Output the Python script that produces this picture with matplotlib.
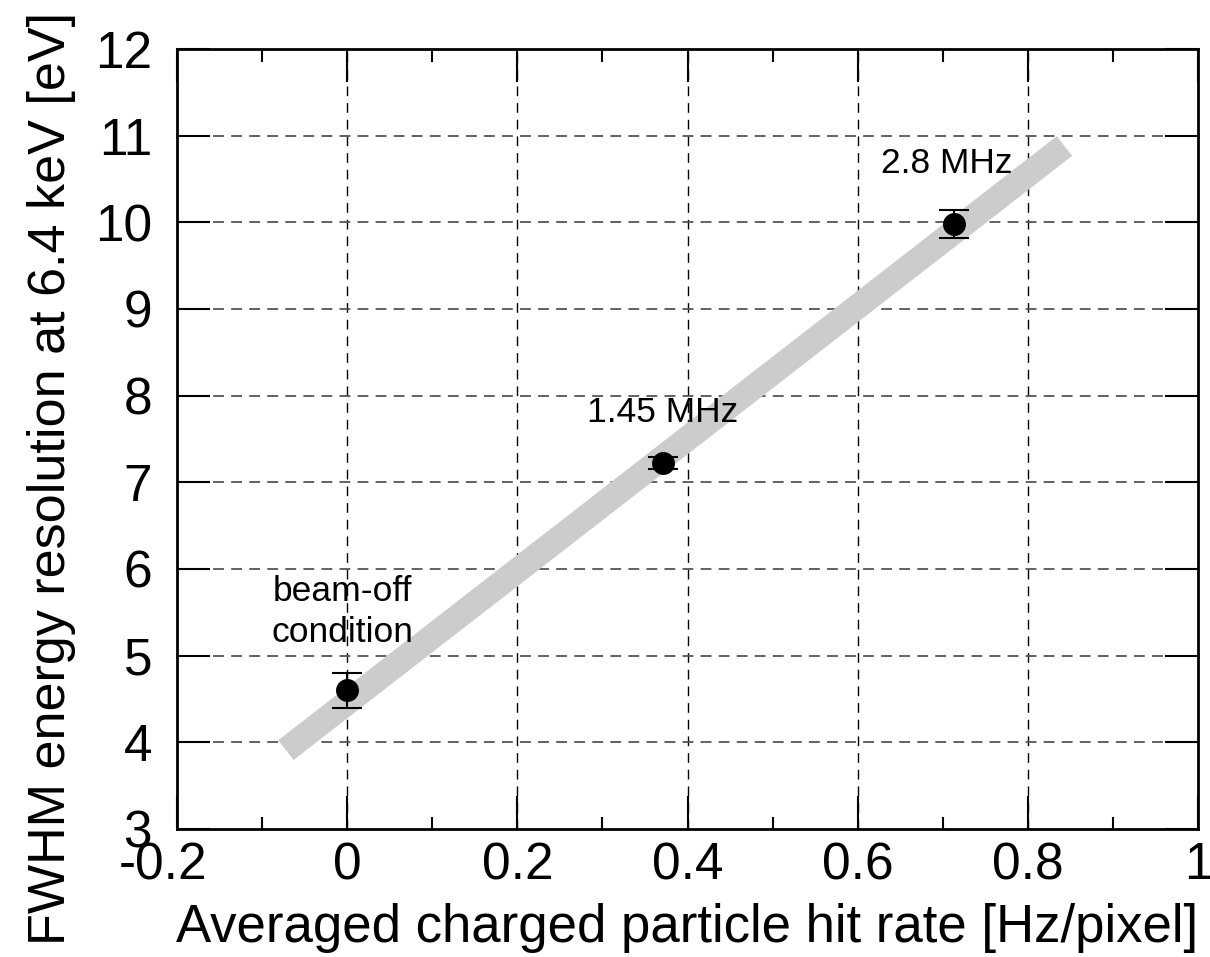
import matplotlib
matplotlib.use("Agg")
import matplotlib.pyplot as plt
from matplotlib.ticker import MultipleLocator
from matplotlib.transforms import ScaledTranslation

plt.rcParams['font.family'] = ['Liberation Sans', 'DejaVu Sans']
plt.rcParams['axes.unicode_minus'] = False

# Data
hit_rate = [0.0, 0.371, 0.713]
fwhm = [4.60, 7.22, 9.98]
fwhm_err = [0.20, 0.07, 0.165]
fit_x = [-0.072, 0.843]
fit_y = [3.91, 10.88]
labels = ["beam-off\ncondition", "1.45 MHz", "2.8 MHz"]
label_x = [-0.006, 0.371, 0.705]
label_y = [5.50, 7.81, 10.68]
x_ticks = [-0.2, 0.0, 0.2, 0.4, 0.6, 0.8, 1.0]
x_ticklabels = ["-0.2", "0", "0.2", "0.4", "0.6", "0.8", "1"]
y_ticks = [3, 4, 5, 6, 7, 8, 9, 10, 11, 12]
y_ticklabels = ["3", "4", "5", "6", "7", "8", "9", "10", "11", "12"]

fig = plt.figure(figsize=(12.1, 9.57), dpi=100)
ax = fig.add_axes([0.1463, 0.1338, 0.8438, 0.815])

ax.set_xlim(-0.2, 1.0)
ax.set_ylim(3, 12)
ax.set_xticks(x_ticks)
ax.set_xticklabels(x_ticklabels)
ax.set_yticks(y_ticks)
ax.set_yticklabels(y_ticklabels)
ax.xaxis.set_minor_locator(MultipleLocator(0.1))

# Grid
for xv in x_ticks[1:-1]:
    ax.axvline(xv, color='black', lw=1.0, ls=(0, (7, 5)), zorder=1)
for yv in y_ticks[1:-1]:
    ax.axhline(yv, color='#555555', lw=1.3, ls=(0, (6, 4)), zorder=1)

# Fit band
ax.plot(fit_x, fit_y, color='#cccccc', lw=18, solid_capstyle='butt', zorder=2)

# Data points
ax.errorbar(hit_rate, fwhm, yerr=fwhm_err, fmt='o', color='black',
            markersize=15.5, capsize=10.5, elinewidth=1.5, capthick=1.5, zorder=3)

for t, lx, ly in zip(labels, label_x, label_y):
    ax.text(lx, ly, t, ha='center', va='center', fontsize=25.5, linespacing=1.3, zorder=4)

ax.tick_params(which='both', direction='in', top=True, right=True, width=1.5,
               labelsize=37)
ax.tick_params(which='major', length=24)
ax.tick_params(which='minor', length=9)
ax.tick_params(axis='x', pad=9)
ax.tick_params(axis='y', pad=18)

for sp in ax.spines.values():
    sp.set_linewidth(2)

ax.set_xlabel("Averaged charged particle hit rate [Hz/pixel]", fontsize=38)
ax.xaxis.label.set_va('baseline')
ax.xaxis.set_label_coords(0.5, -0.1449)
ax.set_ylabel("FWHM energy resolution at 6.4 keV [eV]", fontsize=37.5)
ax.yaxis.label.set_va('center')
ax.yaxis.set_label_coords(-0.1234, 0.449)

# hanging minus: center numeric part of "-0.2" under its tick
lbl = ax.get_xticklabels()[0]
lbl.set_transform(lbl.get_transform() + ScaledTranslation(-10 / 72, 0, fig.dpi_scale_trans))

fig.savefig("out.png", dpi=100)
